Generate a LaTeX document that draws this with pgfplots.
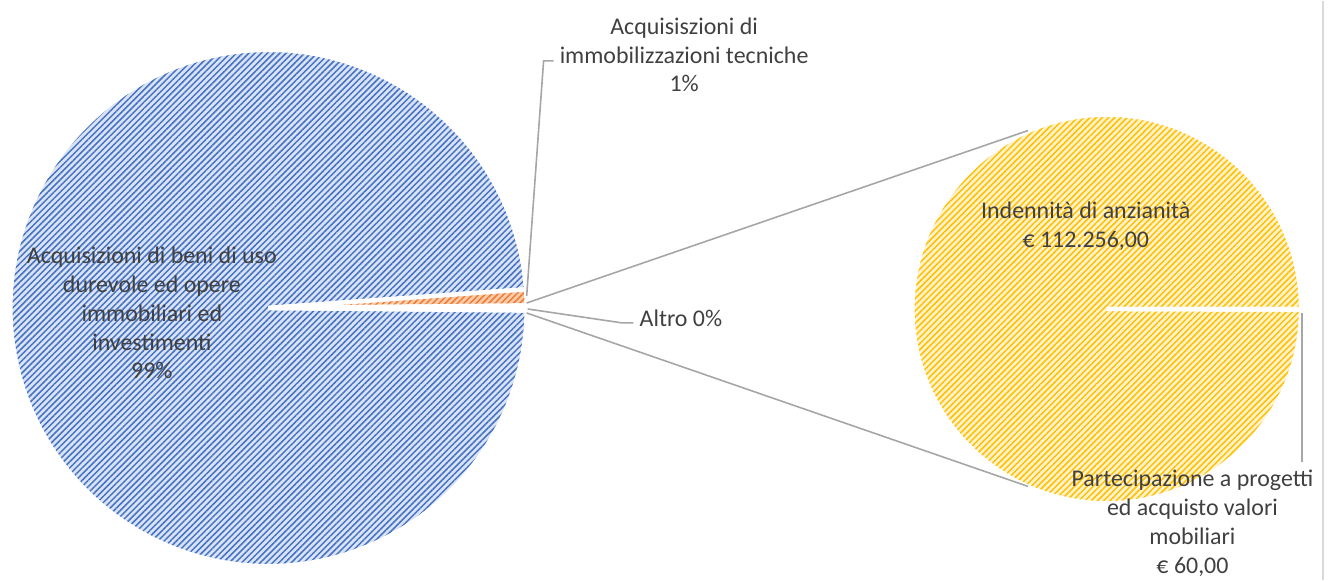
\documentclass[border=0pt]{standalone}
\usepackage{pgfplots}
\pgfplotsset{compat=1.18}
\usepackage{fontspec}
\setmainfont{Carlito}
\usetikzlibrary{patterns.meta}
\definecolor{txt}{HTML}{404040}
\definecolor{blueD}{HTML}{4472C4}
\definecolor{blueL}{HTML}{DAE3F3}
\definecolor{orD}{HTML}{ED7D31}
\definecolor{orL}{HTML}{F8CBAD}
\definecolor{yeD}{HTML}{FFC000}
\definecolor{yeL}{HTML}{FFF2CC}
\definecolor{lead}{HTML}{A6A6A6}
\definecolor{frame}{HTML}{D9D9D9}
% slice: cx, cy, start angle, end angle, radius, light, dark
\newcommand\slice[7]{%
  \filldraw[draw=white,line width=2.2pt,preaction={fill=#6},
    pattern={Lines[angle=45,distance=2.2pt,line width=0.75pt]},pattern color=#7]
    (axis cs:#1,#2) -- ++(#3:#5) arc[start angle=#3,end angle=#4,radius=#5] -- cycle;}
\begin{document}
\begin{tikzpicture}
\begin{axis}[x=0.5pt,y=0.5pt,xmin=0,xmax=1334,ymin=0,ymax=581,y dir=reverse,
  hide axis,scale only axis,clip=false]
\path (axis cs:0,0) rectangle (axis cs:1334,581);
% primary pie: Acquisizioni beni 98.7%, immobilizzazioni tecniche 1.0%, Altro 0.3%
\slice{265}{308}{4.14}{359.46}{129.5pt}{blueL}{blueD}
\slice{265}{308}{0.54}{4.14}{129.5pt}{orL}{orD}
\slice{265}{308}{-0.54}{0.54}{129.5pt}{blueL}{blueD}
% secondary pie: Indennita 112256, Partecipazione 60
\slice{1106}{309}{0}{359.81}{97.5pt}{yeL}{yeD}
\slice{1106}{309}{-0.19}{0}{97.5pt}{yeL}{yeD}
% connectors
\draw[lead,line width=0.8pt] (axis cs:524,303) -- (axis cs:1027,130);
\draw[lead,line width=0.8pt] (axis cs:524,313) -- (axis cs:1027,487);
% leader lines
\draw[lead,line width=0.8pt] (axis cs:524,296) -- (axis cs:541,60) -- (axis cs:551,60);
\draw[lead,line width=0.8pt] (axis cs:525,309) -- (axis cs:620,323) -- (axis cs:631,323);
\draw[lead,line width=0.8pt] (axis cs:1302,313) -- (axis cs:1302,463);
\draw[frame,line width=1pt] (axis cs:1323,0) -- (axis cs:1323,581);
% labels
\tikzset{lab/.style={align=center,text=txt,inner sep=0pt,font=\fontsize{12pt}{14.5pt}\selectfont}}
\node[lab] at (axis cs:682,54) {Acquisiszioni di\\immobilizzazioni tecniche\\1\%};
\node[lab] at (axis cs:148,313) {Acquisizioni di beni di uso\\durevole ed opere\\immobiliari ed\\investimenti\\99\%};
\node[lab,anchor=west] at (axis cs:637,318) {Altro 0\%};
\node[lab] at (axis cs:1085,226) {Indennità di anzianità\\€ 112.256,00};
\node[lab] at (axis cs:1192,524) {Partecipazione a progetti\\ed acquisto valori\\mobiliari\\€ 60,00};
\end{axis}
\end{tikzpicture}
\end{document}
